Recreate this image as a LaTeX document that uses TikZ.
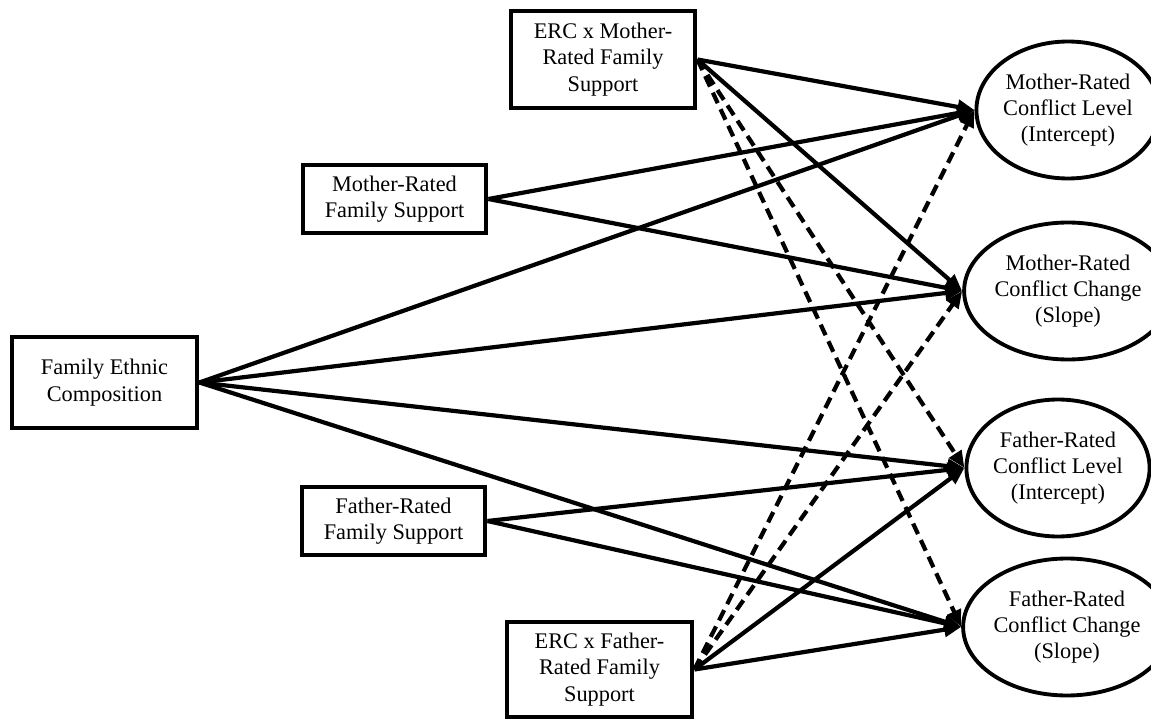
\documentclass[tikz,border=0pt]{standalone}
\usepackage{fontspec}
\setmainfont{Liberation Serif}
\usetikzlibrary{positioning,arrows.meta,shapes.geometric}
\tikzset{
  pth/.style    = {line width=2.4pt, -{Triangle[length=3.4mm,width=2.8mm]}},
  ipth/.style   = {pth, dash pattern=on 6.6pt off 3.8pt},
  obox/.style   = {draw, fill=white, line width=2.8pt, align=center,
                   inner sep=2pt, font=\fontsize{12.7}{15}\selectfont},
  lat/.style    = {draw, fill=white, ellipse, line width=2.2pt, align=center,
                   inner sep=0pt, minimum width=3.2cm, minimum height=2.74cm,
                   font=\fontsize{12.7}{15}\selectfont},
}
\begin{document}
\begin{tikzpicture}
  \useasboundingbox (0,0) rectangle (23.02,14.42);
  % observed predictors
  \node[obox, minimum width=3.7cm, minimum height=1.82cm] (fec) at (2.09,6.77)
    {Family Ethnic\\Composition};
  \node[obox, minimum width=3.66cm, minimum height=1.36cm] (mfs) at (7.89,10.44)
    {Mother-Rated\\Family Support};
  \node[obox, minimum width=3.66cm, minimum height=1.36cm] (ffs) at (7.87,4.0)
    {Father-Rated\\Family Support};
  \node[obox, minimum width=3.68cm, minimum height=1.94cm] (ercm) at (12.06,13.23)
    {ERC x Mother-\\Rated Family\\Support};
  \node[obox, minimum width=3.7cm, minimum height=1.9cm] (ercf) at (11.99,1.03)
    {ERC x Father-\\Rated Family\\Support};
  % growth factors
  \node[lat] (mlvl) at (21.36,12.22) {Mother-Rated\\Conflict Level\\(Intercept)};
  \node[lat] (mslp) at (21.36,8.6) {Mother-Rated\\Conflict Change\\(Slope)};
  \node[lat] (flvl) at (21.16,5.06) {Father-Rated\\Conflict Level\\(Intercept)};
  \node[lat] (fslp) at (21.34,1.88) {Father-Rated\\Conflict Change\\(Slope)};
  % paths
  \foreach \t in {mlvl,mslp,flvl,fslp} \draw[pth] (fec.east) -- (\t.west);
  \draw[pth] (mfs.east) -- (mlvl.west); \draw[pth] (mfs.east) -- (mslp.west);
  \draw[pth] (ffs.east) -- (flvl.west); \draw[pth] (ffs.east) -- (fslp.west);
  \draw[pth] (ercm.east) -- (mlvl.west); \draw[pth] (ercm.east) -- (mslp.west);
  \draw[ipth] (ercm.east) -- (flvl.west); \draw[ipth] (ercm.east) -- (fslp.west);
  \draw[pth] (ercf.east) -- (flvl.west); \draw[pth] (ercf.east) -- (fslp.west);
  \draw[ipth] (ercf.east) -- (mlvl.west); \draw[ipth] (ercf.east) -- (mslp.west);
\end{tikzpicture}
\end{document}
